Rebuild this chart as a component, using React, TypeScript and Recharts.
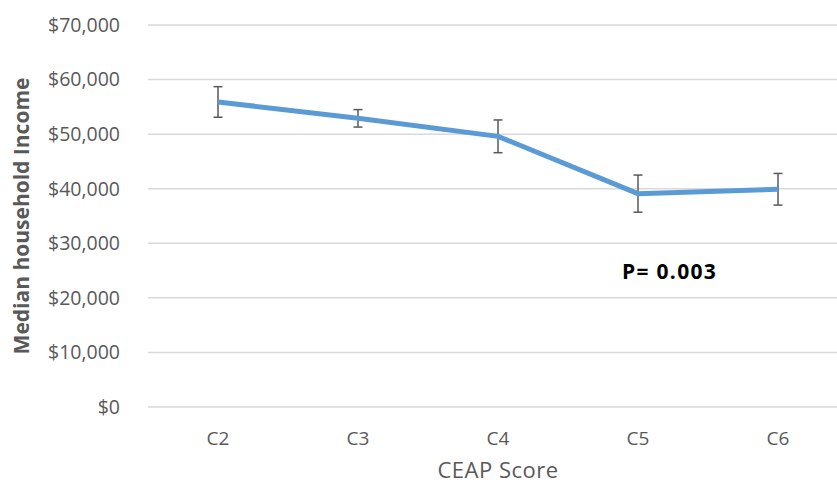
import { LineChart, Line, XAxis, YAxis, CartesianGrid, ErrorBar } from 'recharts';

const categories = ['C2', 'C3', 'C4', 'C5', 'C6'];
const medianIncome = [55900, 52900, 49600, 39100, 39900];
const incomeError = [2800, 1600, 3000, 3400, 2900];
const yTicks = [0, 10000, 20000, 30000, 40000, 50000, 60000, 70000];

const data = categories.map((c, i) => ({ score: c, income: medianIncome[i], err: incomeError[i] }));

const FONT = '"Open Sans", sans-serif';
const GREY = '#595959';

const formatMoney = (v: number) => '$' + v.toLocaleString('en-US');

const App = () => {
    return (
        <div style={{ position: 'absolute', left: 0, top: 0, width: 837, height: 483, overflow: 'hidden', background: '#fff' }}>
            <LineChart width={850} height={483} data={data} margin={{ top: 25, right: 2, left: 0, bottom: 0 }}>
                <CartesianGrid horizontal vertical={false} stroke="#D9D9D9" strokeWidth={1.5} />
                <XAxis
                    dataKey="score"
                    height={76}
                    padding={{ left: 70, right: 70 }}
                    axisLine={false}
                    tickLine={false}
                    tickSize={0}
                    tickMargin={25}
                    tick={{ fill: GREY, fontSize: 19, fontFamily: FONT }}
                    label={{ value: 'CEAP Score', position: 'insideBottom', offset: 5, fill: GREY, fontSize: 22, letterSpacing: 0.5, fontFamily: FONT }}
                />
                <YAxis
                    width={148}
                    domain={[0, 70000]}
                    ticks={yTicks}
                    axisLine={false}
                    tickLine={false}
                    tickSize={0}
                    tickMargin={28}
                    tickFormatter={formatMoney}
                    tick={{ fill: GREY, fontSize: 19.5, fontFamily: FONT }}
                    label={{
                        value: 'Median household Income',
                        angle: -90,
                        position: 'insideLeft',
                        offset: 22,
                        fill: GREY,
                        fontSize: 21,
                        fontWeight: 'bold',
                        fontFamily: FONT,
                        style: { textAnchor: 'middle' },
                    }}
                />
                <Line
                    type="linear"
                    dataKey="income"
                    stroke="#5B9BD5"
                    strokeWidth={5}
                    dot={false}
                    isAnimationActive={false}
                >
                    <ErrorBar dataKey="err" stroke={GREY} strokeWidth={1.5} width={4.5} isAnimationActive={false} />
                </Line>
                <text x={622} y={279} fill="#000" fontSize={21} fontWeight="bold" letterSpacing={1.3} fontFamily={FONT}>
                    P= 0.003
                </text>
            </LineChart>
        </div>
    );
};

export default App;
